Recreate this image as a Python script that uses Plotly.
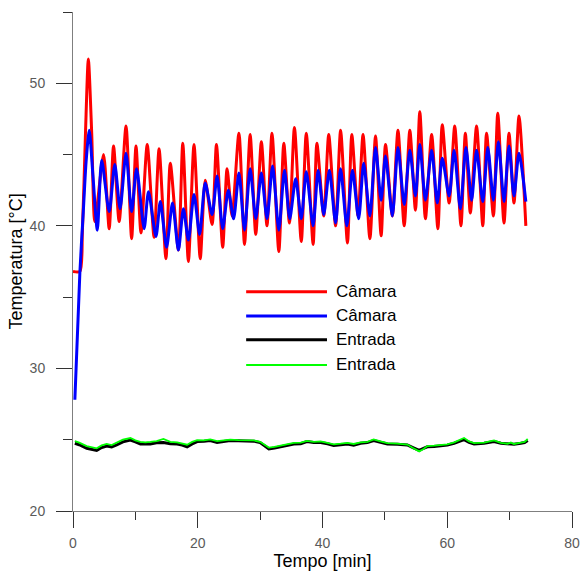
import plotly.graph_objects as go

# ---------------- data ----------------
RED_TIME = [
    0.0, 1.1, 1.5, 2.0, 2.46, 3.0, 3.5, 4.9, 5.8, 6.5,
    7.4, 8.5, 9.4, 10.1, 10.9, 11.9, 13.0, 13.8, 14.9, 15.6,
    16.9, 17.6, 18.5, 19.4, 20.4, 21.2, 22.3, 23.0, 24.0, 24.7,
    25.5, 26.6, 27.5, 28.4, 29.3, 30.2, 31.1, 31.9, 33.0, 33.8,
    34.7, 35.5, 36.6, 37.4, 38.5, 39.1, 40.2, 41.0, 42.1, 42.9,
    44.0, 44.7, 45.7, 46.5, 47.6, 48.5, 49.4, 50.1, 51.2, 52.1,
    53.1, 54.0, 54.9, 55.6, 56.5, 57.5, 58.5, 59.2, 60.3, 61.2,
    62.2, 62.9, 63.7, 64.7, 65.7, 66.3, 67.4, 68.1, 69.1, 69.9,
    70.7, 71.5, 72.6,
]
RED_TEMP = [
    36.8, 36.8, 39.5, 46.5, 51.7, 46.5, 40.3, 45.0, 39.8, 45.6,
    40.3, 47.0, 39.1, 45.6, 39.5, 45.7, 39.2, 45.4, 37.7, 44.4,
    38.3, 45.8, 37.5, 45.7, 37.7, 43.2, 40.1, 45.7, 38.5, 44.0,
    40.7, 46.5, 38.7, 46.4, 39.4, 45.9, 40.0, 46.5, 38.2, 45.8,
    40.2, 46.9, 38.9, 46.5, 38.7, 45.8, 40.7, 46.4, 40.0, 46.7,
    38.8, 46.4, 40.7, 46.4, 39.1, 46.3, 39.3, 45.7, 40.7, 46.7,
    40.0, 46.7, 41.1, 48.0, 40.5, 46.4, 39.8, 47.1, 41.6, 47.0,
    40.0, 46.5, 40.9, 47.0, 40.0, 46.5, 40.7, 47.9, 40.2, 46.5,
    41.6, 47.7, 40.0,
]

BLUE_TIME = [
    0.3, 1.1, 1.65, 2.1, 2.6, 3.2, 3.9, 4.6, 5.8, 6.7,
    7.55, 8.5, 9.4, 10.2, 11.4, 12.1, 13.3, 14.0, 15.0, 15.95,
    16.9, 17.7, 18.5, 19.4, 20.3, 21.2, 22.3, 23.1, 24.0, 24.9,
    25.75, 26.6, 27.5, 28.4, 29.3, 30.2, 31.1, 32.0, 33.0, 33.9,
    34.75, 35.7, 36.6, 37.4, 38.5, 39.3, 40.2, 41.1, 42.1, 42.9,
    43.9, 44.8, 45.8, 46.6, 47.6, 48.5, 49.4, 50.1, 51.2, 52.1,
    53.1, 54.0, 54.9, 55.6, 56.5, 57.5, 58.4, 59.2, 60.3, 61.1,
    62.1, 63.0, 63.9, 64.7, 65.7, 66.5, 67.4, 68.2, 69.1, 69.9,
    70.7, 71.5, 72.6,
]
BLUE_TEMP = [
    27.8, 36.7, 41.0, 44.5, 46.7, 43.5, 39.7, 44.6, 41.0, 44.3,
    41.2, 45.1, 41.0, 44.0, 39.8, 42.4, 39.25, 41.7, 38.5, 41.6,
    38.3, 41.2, 39.0, 42.2, 39.4, 43.0, 40.8, 43.5, 39.8, 42.5,
    40.5, 43.7, 39.7, 44.0, 40.5, 43.7, 40.5, 44.2, 39.7, 43.9,
    40.5, 43.3, 40.5, 43.8, 40.0, 43.9, 40.8, 43.9, 40.2, 44.0,
    40.0, 43.9, 40.5, 44.4, 40.7, 45.5, 41.8, 44.9, 40.7, 45.5,
    41.5, 45.3, 42.1, 45.7, 41.8, 45.3, 41.6, 44.75, 42.1, 45.3,
    41.2, 45.5, 41.8, 45.3, 41.7, 45.5, 41.8, 45.9, 41.7, 45.6,
    42.1, 45.1, 41.7,
]

ENTRADA_TIME = [
    0.3, 1.0, 2.2, 3.0, 3.8, 4.6, 5.4, 6.2, 7.0, 8.0,
    9.2, 10.0, 10.8, 11.6, 12.4, 13.4, 14.5, 15.6, 16.7, 17.5,
    18.3, 19.1, 19.9, 21.0, 22.0, 23.1, 24.2, 25.2, 26.5, 27.9,
    29.0, 30.0, 30.7, 31.4, 32.3, 33.3, 34.3, 35.4, 36.5, 37.5,
    38.6, 39.7, 40.8, 41.8, 42.9, 44.0, 45.0, 46.1, 47.2, 48.2,
    49.3, 50.4, 52.0, 53.6, 54.5, 55.5, 56.2, 56.8, 57.9, 59.0,
    60.0, 61.1, 62.0, 62.7, 63.5, 64.3, 65.9, 67.5, 68.6, 69.7,
    70.2, 70.7, 71.8, 72.4, 72.9,
]
BLACK_TEMP = [
    24.75, 24.65, 24.40, 24.35, 24.25, 24.45, 24.56, 24.50, 24.63, 24.85,
    24.98, 24.85, 24.70, 24.72, 24.70, 24.78, 24.80, 24.72, 24.70, 24.62,
    24.50, 24.70, 24.87, 24.90, 24.94, 24.80, 24.88, 24.94, 24.93, 24.94,
    24.90, 24.80, 24.55, 24.35, 24.42, 24.50, 24.60, 24.70, 24.72, 24.87,
    24.80, 24.80, 24.72, 24.60, 24.65, 24.70, 24.62, 24.75, 24.80, 24.94,
    24.82, 24.70, 24.68, 24.63, 24.45, 24.25, 24.40, 24.50, 24.52, 24.56,
    24.62, 24.75, 24.90, 25.00, 24.82, 24.70, 24.75, 24.87, 24.75, 24.70,
    24.72, 24.68, 24.75, 24.80, 24.94,
]
GREEN_TEMP = [
    24.90, 24.80, 24.55, 24.50, 24.40, 24.60, 24.70, 24.62, 24.80, 25.00,
    25.12, 24.95, 24.85, 24.82, 24.85, 24.90, 25.05, 24.85, 24.82, 24.75,
    24.65, 24.85, 24.97, 24.95, 25.02, 24.90, 24.95, 25.00, 24.97, 24.98,
    24.95, 24.85, 24.62, 24.45, 24.50, 24.60, 24.68, 24.78, 24.80, 24.92,
    24.85, 24.88, 24.78, 24.68, 24.72, 24.78, 24.70, 24.82, 24.85, 25.02,
    24.88, 24.76, 24.72, 24.66, 24.42, 24.18, 24.35, 24.55, 24.58, 24.62,
    24.68, 24.82, 24.98, 25.12, 24.88, 24.76, 24.80, 24.95, 24.78, 24.72,
    24.80, 24.70, 24.80, 24.85, 25.05,
]

SERIES_NAMES = ["Câmara", "Câmara", "Entrada", "Entrada"]
SERIES_COLORS = ["#FF0000", "#0000FF", "#000000", "#00FF00"]
SERIES_WIDTHS = [3, 3, 3, 1.8]

X_TITLE = "Tempo [min]"
Y_TITLE = "Temperatura [°C]"

FONT = "Arial, Liberation Sans, sans-serif"

# ---------------- figure ----------------
fig = go.Figure()
series = [
    (RED_TIME, RED_TEMP, "spline"),
    (BLUE_TIME, BLUE_TEMP, "spline"),
    (ENTRADA_TIME, BLACK_TEMP, "linear"),
    (ENTRADA_TIME, GREEN_TEMP, "linear"),
]
for (xs, ys, shape), name, color, w in zip(series, SERIES_NAMES, SERIES_COLORS, SERIES_WIDTHS):
    line = dict(color=color, width=w, shape=shape)
    if shape == "spline":
        line["smoothing"] = 0.7
    fig.add_trace(go.Scatter(x=xs, y=ys, mode="lines", name=name, line=line, showlegend=False))

# legend drawn inside the plot (long line swatches, like the original)
legend_y = [0.4395, 0.391, 0.343, 0.2926]
for name, color, w, ly in zip(SERIES_NAMES, SERIES_COLORS, SERIES_WIDTHS, legend_y):
    fig.add_shape(type="line", xref="paper", yref="paper",
                  x0=0.347, x1=0.509, y0=ly, y1=ly,
                  line=dict(color=color, width=w))
    fig.add_annotation(xref="paper", yref="paper", x=0.523, y=ly,
                       text=name, showarrow=False, xanchor="left", yanchor="middle",
                       font=dict(family=FONT, size=17, color="#000000"))

axis_common = dict(
    showgrid=False, zeroline=False, showline=True,
    linecolor="#7f7f7f", linewidth=1,
    ticks="outside", tickcolor="#333333", tickwidth=1, ticklen=16,
    tickfont=dict(family=FONT, size=14, color="#5a5a5a"),
)

fig.update_xaxes(
    range=[0, 80], tick0=0, dtick=20,
    minor=dict(dtick=10, tick0=0, ticks="outside", ticklen=8, tickcolor="#333333", tickwidth=1, showgrid=False),
    title=dict(text=X_TITLE, font=dict(family=FONT, size=18, color="#000000"), standoff=2),
    ticklabelstandoff=3,
    **axis_common,
)
fig.update_yaxes(
    range=[20, 55], tick0=0, dtick=10,
    minor=dict(dtick=5, tick0=0, ticks="outside", ticklen=9, tickcolor="#333333", tickwidth=1, showgrid=False),
    title=dict(text=Y_TITLE, font=dict(family=FONT, size=18, color="#000000"), standoff=2),
    ticklabelstandoff=8,
    **axis_common,
)

fig.update_layout(
    width=581, height=571,
    margin=dict(l=73, r=9, t=12, b=60, autoexpand=False),
    paper_bgcolor="#FFFFFF", plot_bgcolor="#FFFFFF",
    showlegend=False,
    font=dict(family=FONT),
)

fig.write_html("out.html", config={"displayModeBar": False},
               post_script="document.body.style.margin='0';document.body.style.padding='0';")
